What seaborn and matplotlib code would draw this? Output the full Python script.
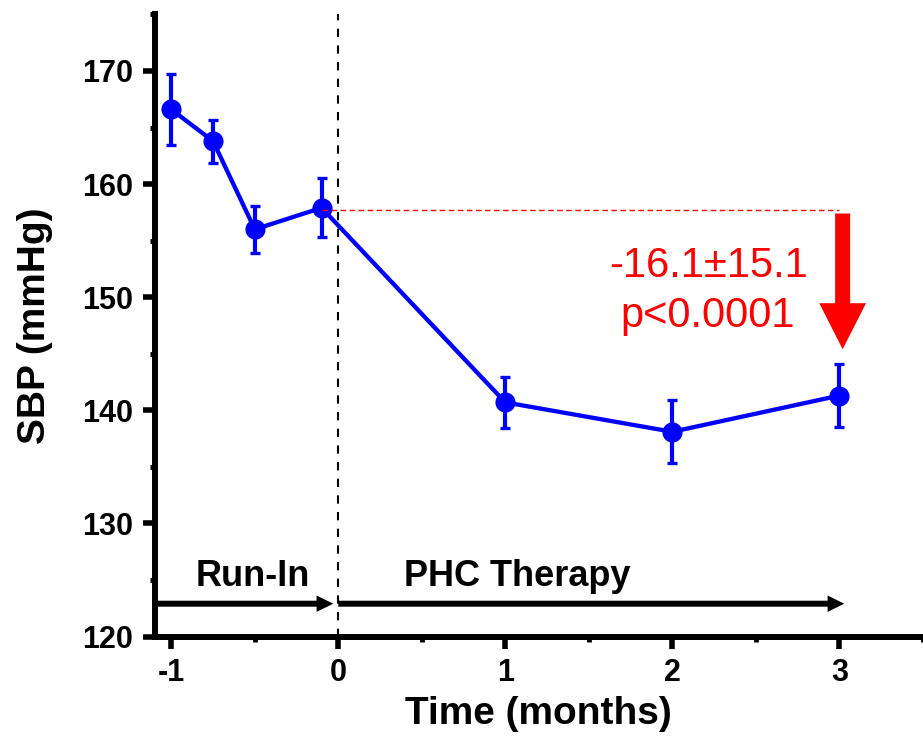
import matplotlib
matplotlib.use('Agg')
import matplotlib.pyplot as plt
import seaborn as sns
import pandas as pd
from matplotlib.ticker import MultipleLocator

# ---- data ----
time_months = [-1.0, -0.75, -0.5, -0.1, 1.0, 2.0, 3.0]
sbp_mean = [166.6, 163.8, 156.0, 157.9, 140.7, 138.1, 141.3]
sbp_sem = [3.1, 1.9, 2.1, 2.6, 2.25, 2.8, 2.75]

x_ticks = [-1, 0, 1, 2, 3]
y_ticks = [120, 130, 140, 150, 160, 170]
baseline_sbp = 157.7
change_text = "-16.1\u00b115.1"
p_text = "p<0.0001"
phase_labels = ["Run-In", "PHC Therapy"]

# ---- style ----
sns.set_style('ticks')
plt.rcParams['font.family'] = ['Liberation Sans', 'DejaVu Sans']
plt.rcParams.update({
    'text.color': 'black', 'axes.labelcolor': 'black',
    'xtick.color': 'black', 'ytick.color': 'black',
    'axes.edgecolor': 'black', 'axes.unicode_minus': False,
})

W, H = 923, 744
fig = plt.figure(figsize=(W / 100, H / 100), dpi=100)
ax = fig.add_axes([154.6 / W, 1 - 636.5 / H, 768.2 / W, 622.05 / H])

blue = '#0000FF'
df = pd.DataFrame({'time': time_months, 'sbp': sbp_mean})
sns.lineplot(data=df, x='time', y='sbp', ax=ax, color=blue, lw=3.1,
             marker='o', markersize=14.5, markeredgewidth=0,
             markeredgecolor=blue, zorder=3, legend=False)
ax.errorbar(time_months, sbp_mean, yerr=sbp_sem, fmt='none', ecolor=blue,
            elinewidth=3, capsize=3.8, capthick=2.4, zorder=3)

ax.set_xlim(-1.1, 3.5)
ax.set_ylim(120, 175)

# reference lines
ax.axvline(0, color='k', lw=1.5, ls=(0, (4, 4)), zorder=1)
ax.hlines(baseline_sbp, -0.1, 3.0, colors='red', lw=1.0,
          linestyles=(0, (4, 2.5)), zorder=4)

# red change arrow
ax.arrow(3.02, 157.4, 0, -12.0, width=0.09, head_width=0.28,
         head_length=4.07, length_includes_head=True, color='red', lw=0,
         zorder=4)
ax.text(2.214, 151.8, change_text, fontsize=30, color='red', ha='center',
        va='baseline')
ax.text(2.214, 147.4, p_text, fontsize=30, color='red', ha='center',
        va='baseline')

# phase arrows
ax.arrow(-1.1, 122.9, 1.07, 0, width=0.53, head_width=1.45, head_length=0.1,
         length_includes_head=True, color='k', lw=0, clip_on=False, zorder=2)
ax.arrow(0.0, 122.9, 3.03, 0, width=0.53, head_width=1.45, head_length=0.1,
         length_includes_head=True, color='k', lw=0, clip_on=False, zorder=2)
ax.text(-0.51, 124.5, phase_labels[0], ha='center', va='baseline',
        fontsize=26, fontweight='bold')
ax.text(1.07, 124.5, phase_labels[1], ha='center', va='baseline',
        fontsize=26, fontweight='bold')

# axes styling
for s in ['top', 'right']:
    ax.spines[s].set_visible(False)
for s in ['left', 'bottom']:
    ax.spines[s].set_linewidth(4.3)
    ax.spines[s].set_color('black')

ax.set_xticks(x_ticks)
ax.set_yticks(y_ticks)
ax.xaxis.set_minor_locator(MultipleLocator(0.5))
ax.yaxis.set_minor_locator(MultipleLocator(5))
ax.tick_params(which='major', direction='out', length=8.6, width=4,
               labelsize=22, pad=7, color='k', labelcolor='k')
ax.tick_params(which='minor', direction='out', length=3.9, width=3.5,
               color='k')
for lbl in ax.get_xticklabels() + ax.get_yticklabels():
    lbl.set_fontweight('bold')

ax.set_xlabel('Time (months)', fontsize=28, fontweight='bold', labelpad=6)
ax.set_ylabel('SBP (mmHg)', fontsize=28, fontweight='bold', labelpad=21)

fig.savefig('out.png', dpi=100)
